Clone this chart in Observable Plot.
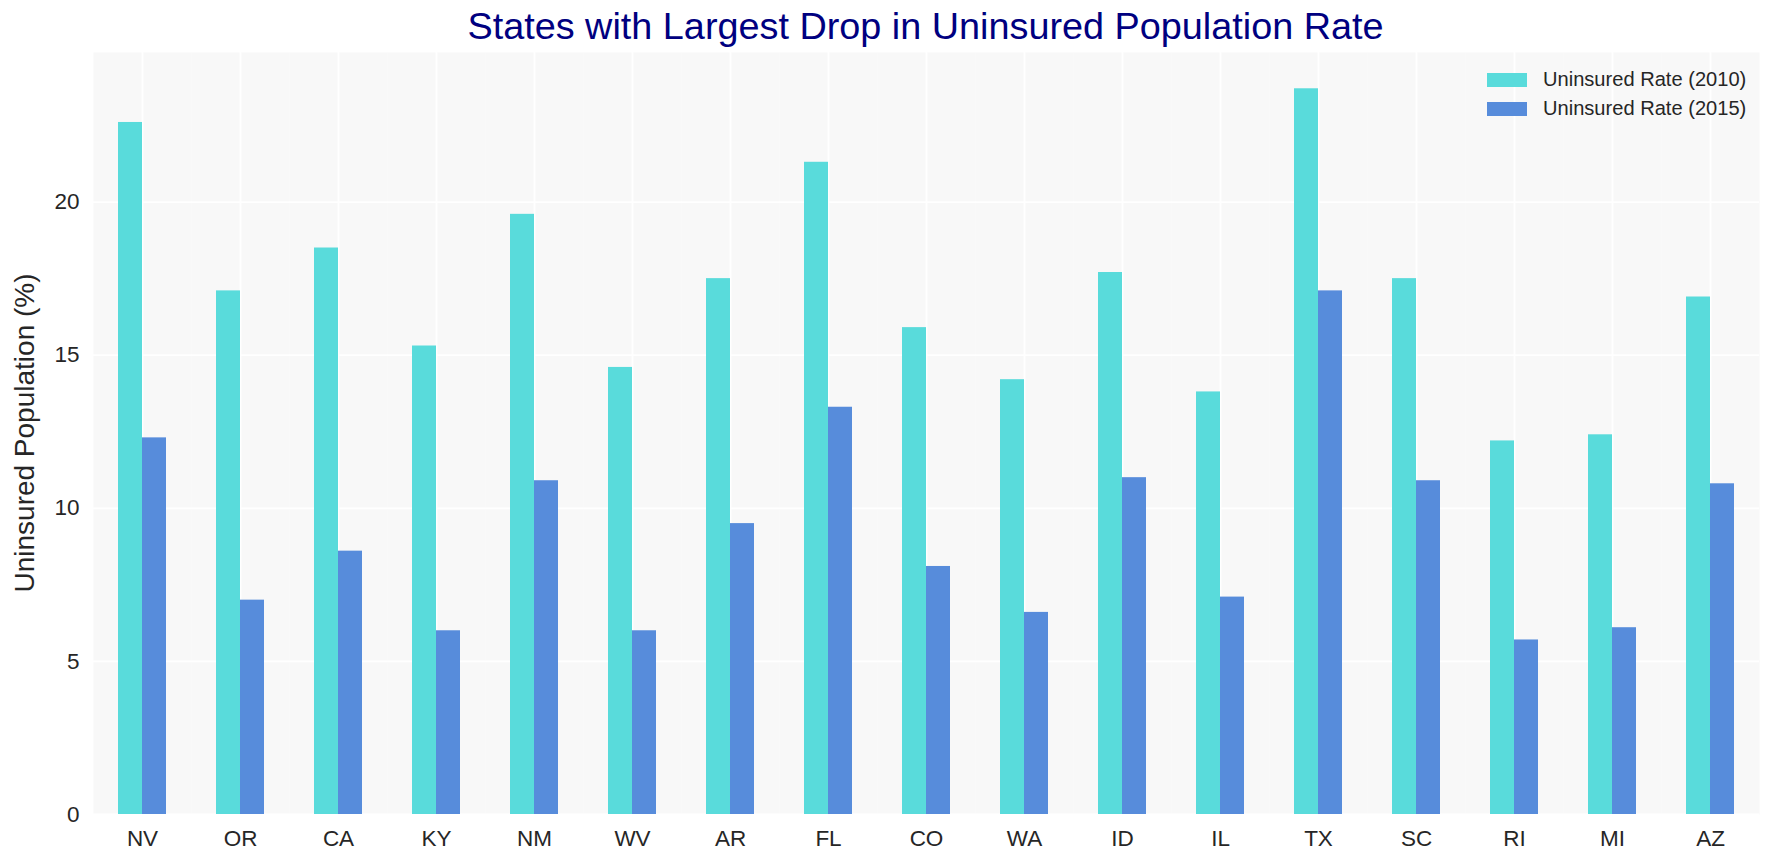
<!DOCTYPE html>
<html>
<head>
<meta charset="utf-8">
<script src="https://cdn.jsdelivr.net/npm/d3@7"></script>
<script src="https://cdn.jsdelivr.net/npm/@observablehq/plot@0.6"></script>
<style>
  html, body { margin: 0; padding: 0; background: #fff; overflow: hidden; }
  #wrap { position: relative; width: 1777px; height: 865px; font-family: "Liberation Sans", Arial, sans-serif; color: #262626; }
  #title { position: absolute; left: 88px; top: 0; width: 1675px; height: 52px; line-height: 52px; text-align: center; font-size: 37.8px; color: #000080; white-space: nowrap; }
  #chart { position: absolute; left: 0; top: 52px; }
  #chart svg { display: block; }
  #ylabel { position: absolute; left: 25px; top: 433px; transform: translate(-50%, -50%) rotate(-90deg); font-size: 28px; white-space: nowrap; color: #262626; }
  #legend { position: absolute; left: 1487px; top: 65px; font-size: 20.1px; color: #262626; }
  .row { display: flex; align-items: center; height: 29px; }
  .sw { width: 40px; height: 14px; margin-right: 16px; }
</style>
</head>
<body>
<div id="wrap">
  <div id="title">States with Largest Drop in Uninsured Population Rate</div>
  <div id="chart"></div>
  <div id="ylabel">Uninsured Population (%)</div>
  <div id="legend"></div>
</div>
<script>
const states = ["NV","OR","CA","KY","NM","WV","AR","FL","CO","WA","ID","IL","TX","SC","RI","MI","AZ"];
const rate2010 = [22.6, 17.1, 18.5, 15.3, 19.6, 14.6, 17.5, 21.3, 15.9, 14.2, 17.7, 13.8, 23.7, 17.5, 12.2, 12.4, 16.9];
const rate2015 = [12.3, 7.0, 8.6, 6.0, 10.9, 6.0, 9.5, 13.3, 8.1, 6.6, 11.0, 7.1, 17.1, 10.9, 5.7, 6.1, 10.8];
const seriesNames = ["Uninsured Rate (2010)", "Uninsured Rate (2015)"];
const seriesColors = ["#59DBDB", "#578CDB"];
const yTicks = [0, 5, 10, 15, 20];

const data = states.flatMap((s, i) => [
  {state: s, series: seriesNames[0], value: rate2010[i]},
  {state: s, series: seriesNames[1], value: rate2015[i]}
]);
const yMax = d3.max(data, d => d.value) * 1.05;

const chart = Plot.plot({
  width: 1777,
  height: 813,
  marginTop: 0,
  marginBottom: 51,
  marginLeft: 88,
  marginRight: 14,
  style: {fontFamily: "'Liberation Sans', Arial, sans-serif", fontSize: "22.5px", color: "#262626", background: "transparent"},
  fx: {domain: states, paddingInner: 0, paddingOuter: 0, axis: "bottom", label: null, tickSize: 0, tickPadding: 16},
  x: {domain: seriesNames, paddingInner: 0, paddingOuter: 1, axis: null},
  y: {domain: [0, yMax], ticks: yTicks, tickSize: 0, tickPadding: 14, label: null, axis: "left"},
  color: {domain: seriesNames, range: seriesColors},
  marks: [
    Plot.frame({fill: "#f8f8f8", stroke: null}),
    Plot.gridY(yTicks, {stroke: "white", strokeOpacity: 1, strokeWidth: 1.8}),
    Plot.gridFx({stroke: "white", strokeOpacity: 1, strokeWidth: 1.8}),
    Plot.barY(data, {fx: "state", x: "series", y: "value", fill: "series"})
  ]
});
document.getElementById("chart").appendChild(chart);

const legend = document.getElementById("legend");
seriesNames.forEach((name, i) => {
  const row = document.createElement("div");
  row.className = "row";
  const sw = document.createElement("div");
  sw.className = "sw";
  sw.style.background = seriesColors[i];
  const label = document.createElement("span");
  label.textContent = name;
  row.appendChild(sw);
  row.appendChild(label);
  legend.appendChild(row);
});
</script>
</body>
</html>
